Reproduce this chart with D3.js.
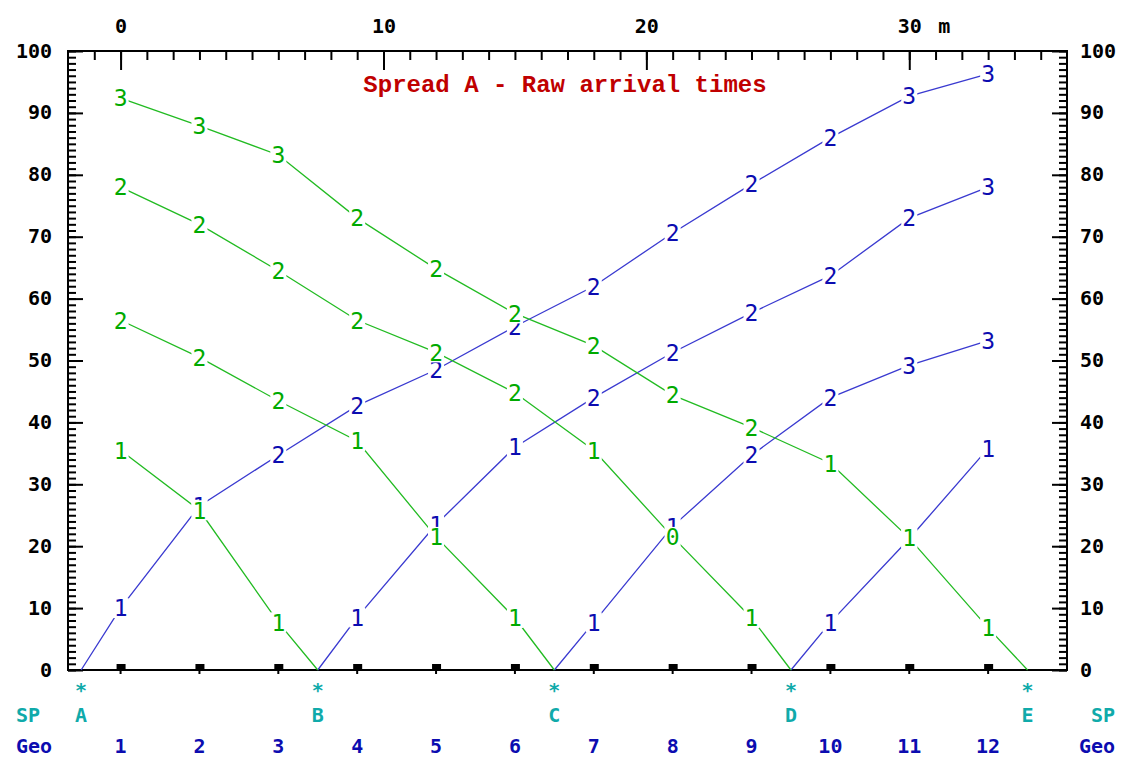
<!DOCTYPE html>
<html>
<head>
<meta charset="utf-8">
<script src="https://cdn.jsdelivr.net/npm/d3@7"></script>
<style>
  body { margin: 0; background: #fff; }
  svg { display: block; }
  .lbl { font-family: "DejaVu Sans Mono", monospace; font-weight: bold; font-size: 20px; fill: #000; }
  .pick { font-family: "DejaVu Sans Mono", monospace; font-size: 23px; }
</style>
</head>
<body>
<script>
// geophones and shot points (metres)
var geoX = [0, 3, 6, 9, 12, 15, 18, 21, 24, 27, 30, 33];
var geoNames = ["1", "2", "3", "4", "5", "6", "7", "8", "9", "10", "11", "12"];
var shotNames = ["A", "B", "C", "D", "E"];
var shotX = [-1.5, 7.5, 16.5, 25.5, 34.5];

// forward arrivals (blue), geophones to the right of the shot
var fwdA = [10, 26.5, 34.7, 42.7, 48.5, 55.5, 62, 70.6, 78.5, 86, 92.7, 96.3];
var fwdALayer = [1, 1, 2, 2, 2, 2, 2, 2, 2, 2, 3, 3];
var fwdB = [8.5, 23.5, 36, 44, 51.3, 57.7, 63.7, 73, 78];
var fwdBLayer = [1, 1, 1, 2, 2, 2, 2, 2, 3];
var fwdC = [7.7, 23.2, 34.7, 44, 49.2, 53.2];
var fwdCLayer = [1, 1, 2, 2, 3, 3];
var fwdD = [7.7, 21.2, 35.8];
var fwdDLayer = [1, 1, 1];

// reverse arrivals (green), geophones to the left of the shot, nearest first
var revB = [7.7, 25.8, 35.5];
var revBLayer = [1, 1, 1];
var revC = [8.4, 21.5, 37, 43.5, 50.5, 56.5];
var revCLayer = [1, 1, 1, 2, 2, 2];
var revD = [8.4, 21.5, 35.5, 44.8, 51.3, 56.5, 64.5, 72, 78];
var revDLayer = [1, 0, 1, 2, 2, 2, 2, 2, 2];
var revE = [6.8, 21.3, 33.4, 39.2, 44.4, 52.4, 57.6, 64.8, 73, 83.2, 87.9, 92.4];
var revELayer = [1, 1, 1, 2, 2, 2, 2, 2, 2, 3, 3, 3];

var yTicks = [0, 10, 20, 30, 40, 50, 60, 70, 80, 90, 100];
var xTicks = [0, 10, 20, 30];

var width = 1123, height = 758;
var pLeft = 68, pRight = 1067, pTop = 51, pBottom = 670;

var x = d3.scaleLinear().domain([-2, 36]).range([pLeft, pRight]);
var y = d3.scaleLinear().domain([0, 100]).range([pBottom, pTop]);

var blueLine = "#3a3ad0", blueText = "#0c0cb0";
var greenLine = "#22bb22", greenText = "#00aa00";
var cyan = "#10aaaa";

var svg = d3.select("body").append("svg")
    .attr("width", width)
    .attr("height", height);

// build series: fwd goes from the shot to the right, rev to the left
function series(shot, times, layers, dir) {
  var si = shotNames.indexOf(shot);
  var pts = [{x: shotX[si], t: 0, layer: null}];
  var g0 = dir > 0 ? geoX.findIndex(function(g) { return g > shotX[si]; })
                   : geoX.length - 1 - geoX.slice().reverse().findIndex(function(g) { return g < shotX[si]; });
  times.forEach(function(t, k) {
    pts.push({x: geoX[g0 + dir * k], t: t, layer: layers[k]});
  });
  return pts;
}

var blue = [
  series("A", fwdA, fwdALayer, 1),
  series("B", fwdB, fwdBLayer, 1),
  series("C", fwdC, fwdCLayer, 1),
  series("D", fwdD, fwdDLayer, 1)
];
var green = [
  series("B", revB, revBLayer, -1),
  series("C", revC, revCLayer, -1),
  series("D", revD, revDLayer, -1),
  series("E", revE, revELayer, -1)
];

var line = d3.line()
    .x(function(d) { return x(d.x); })
    .y(function(d) { return y(d.t); });

// frame
svg.append("rect")
    .attr("x", pLeft).attr("y", pTop)
    .attr("width", pRight - pLeft).attr("height", pBottom - pTop)
    .attr("fill", "none").attr("stroke", "#000").attr("stroke-width", 2);

// top axis, ticks pointing in
var minorX = d3.range(-1, 36);
svg.append("g")
    .attr("transform", "translate(0," + pTop + ")")
    .call(d3.axisTop(x).tickValues(minorX).tickSize(-9).tickFormat(""))
    .call(function(g) { g.select(".domain").remove(); g.selectAll("line").attr("stroke-width", 2); });
svg.append("g")
    .attr("transform", "translate(0," + pTop + ")")
    .call(d3.axisTop(x).tickValues(xTicks).tickSize(-19).tickPadding(18).tickFormat(d3.format("d")))
    .call(function(g) {
      g.select(".domain").remove();
      g.selectAll("line").attr("stroke-width", 2);
      g.selectAll("text").attr("class", "lbl").attr("fill", null);
    });
svg.append("text").attr("class", "lbl")
    .attr("x", x(30) + 35).attr("y", pTop - 18)
    .attr("text-anchor", "middle").text("m");

// left and right axes
var minorY = d3.range(0, 101);
[[pLeft, d3.axisLeft, 16], [pRight, d3.axisRight, 13]].forEach(function(a) {
  svg.append("g")
      .attr("transform", "translate(" + a[0] + ",0)")
      .call(a[1](y).tickValues(minorY).tickSize(-8).tickFormat(""))
      .call(function(g) { g.select(".domain").remove(); g.selectAll("line").attr("stroke-width", 2); });
  svg.append("g")
      .attr("transform", "translate(" + a[0] + ",0)")
      .call(a[1](y).tickValues(yTicks).tickSize(-15).tickPadding(a[2]))
      .call(function(g) {
        g.select(".domain").remove();
        g.selectAll("line").attr("stroke-width", 2);
        g.selectAll("text").attr("class", "lbl").attr("fill", null).attr("dy", "0.3em");
      });
});

// geophone markers on the bottom line
svg.append("g").selectAll("rect")
    .data(geoX)
  .enter().append("rect")
    .attr("x", function(d) { return x(d) - 4; })
    .attr("y", pBottom - 6)
    .attr("width", 9).attr("height", 6)
    .attr("fill", "#000");
svg.append("g").selectAll("line")
    .data(geoX)
  .enter().append("line")
    .attr("x1", function(d) { return x(d); }).attr("x2", function(d) { return x(d); })
    .attr("y1", pBottom).attr("y2", pBottom + 4)
    .attr("stroke", "#000").attr("stroke-width", 2);

// travel-time lines
svg.append("g").selectAll("path")
    .data(blue)
  .enter().append("path")
    .attr("d", line)
    .attr("fill", "none").attr("stroke", blueLine).attr("stroke-width", 1.3);
svg.append("g").selectAll("path")
    .data(green)
  .enter().append("path")
    .attr("d", line)
    .attr("fill", "none").attr("stroke", greenLine).attr("stroke-width", 1.3);

// layer labels with white boxes
function picks(data, color) {
  var pts = [].concat.apply([], data).filter(function(d) { return d.layer !== null; });
  var g = svg.append("g").selectAll("g")
      .data(pts)
    .enter().append("g")
      .attr("transform", function(d) { return "translate(" + x(d.x) + "," + y(d.t) + ")"; });
  g.append("rect")
      .attr("x", -8).attr("y", -10).attr("width", 16).attr("height", 20)
      .attr("fill", "#fff");
  g.append("text")
      .attr("class", "pick")
      .attr("text-anchor", "middle")
      .attr("dy", "0.36em")
      .attr("fill", color)
      .text(function(d) { return d.layer; });
}
picks(blue, blueText);
picks(green, greenText);

// title
svg.append("text")
    .attr("x", 565).attr("y", 92)
    .attr("text-anchor", "middle")
    .attr("font-family", "Liberation Mono, monospace")
    .attr("font-weight", "bold")
    .attr("font-size", 24)
    .attr("fill", "#c00000")
    .text("Spread A - Raw arrival times");

// shot points
svg.append("g").selectAll("text")
    .data(shotX)
  .enter().append("text")
    .attr("class", "lbl")
    .attr("x", function(d) { return x(d); }).attr("y", 697)
    .attr("text-anchor", "middle")
    .style("fill", cyan)
    .text("*");
svg.append("g").selectAll("text")
    .data(shotX)
  .enter().append("text")
    .attr("class", "lbl")
    .attr("x", function(d) { return x(d); }).attr("y", 722)
    .attr("text-anchor", "middle")
    .style("fill", cyan)
    .text(function(d, i) { return shotNames[i]; });

// geophone numbers
svg.append("g").selectAll("text")
    .data(geoX)
  .enter().append("text")
    .attr("class", "lbl")
    .attr("x", function(d) { return x(d); }).attr("y", 753)
    .attr("text-anchor", "middle")
    .style("fill", blueText)
    .text(function(d, i) { return geoNames[i]; });

// row captions
[[16, "start"], [1115, "end"]].forEach(function(c) {
  svg.append("text").attr("class", "lbl")
      .attr("x", c[0]).attr("y", 722).attr("text-anchor", c[1])
      .style("fill", cyan).text("SP");
  svg.append("text").attr("class", "lbl")
      .attr("x", c[0]).attr("y", 753).attr("text-anchor", c[1])
      .style("fill", blueText).text("Geo");
});
</script>
</body>
</html>
